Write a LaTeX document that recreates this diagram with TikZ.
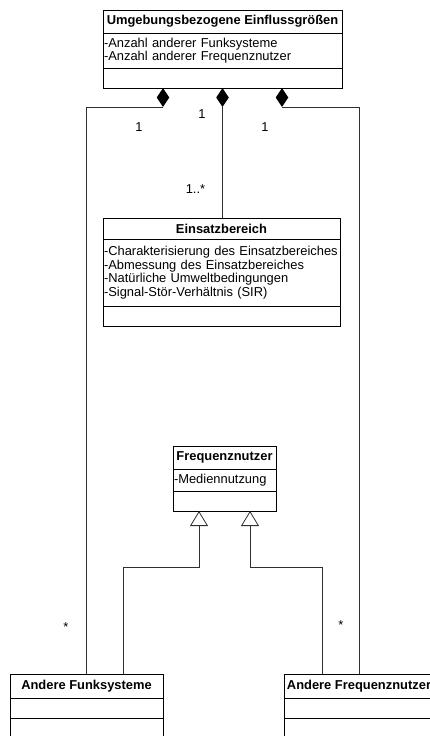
\documentclass[tikz,border=0pt]{standalone}
\usepackage{fontspec}
\setmainfont{Liberation Sans}
\usetikzlibrary{arrows.meta, positioning, shapes.geometric, calc}
\definecolor{cline}{HTML}{303030}
\tikzset{
  every picture/.style={font=\fontsize{12.9}{13.5}\selectfont, line width=1pt},
  clshead/.style={draw, font=\fontsize{12.9}{13.5}\selectfont\bfseries, inner sep=0pt, outer sep=0pt, anchor=north west},
  clsbody/.style={draw, align=left, inner xsep=1pt, inner ysep=0pt, outer sep=0pt},
  comp/.style={diamond, fill=black, draw=none, inner sep=0pt, outer sep=0pt, minimum width=12.5pt, minimum height=19pt},
  assoc/.style={draw=cline, line width=0.8pt},
  gen/.style={-{Triangle[open, length=15pt, width=18pt]}, draw=cline, line width=0.8pt},
  mult/.style={anchor=base, inner sep=0pt},
}

\begin{document}
\begin{tikzpicture}[x=1pt, y=-1pt]
  % \umlclass{name}{x,y}{width}{title h}{attr h}{ops h}{title}{attributes}
  \newcommand{\umlclass}[8]{
    \pgfmathsetmacro{\bodyw}{#3-2}
    \node[clshead, minimum width=#3pt, minimum height=#4pt] (#1) at (#2) {#7};
    \node[clsbody, text width=\bodyw pt, minimum height=#5pt, below=0pt of #1] (#1-a) {#8};
    \node[clsbody, text width=\bodyw pt, minimum height=#6pt, below=0pt of #1-a] (#1-o) {};
  }
  \useasboundingbox (0,0) rectangle (430,736);
  \clip (0,0) rectangle (430,736);

  \umlclass{umg}{103,10}{239}{23}{35}{20}{Umgebungsbezogene Einflussgrößen}{-Anzahl anderer Funksysteme\\-Anzahl anderer Frequenznutzer}
  \umlclass{eb}{103,218}{237}{21}{67}{20}{Einsatzbereich}{-Charakterisierung des Einsatzbereiches\\-Abmessung des Einsatzbereiches\\-Natürliche Umweltbedingungen\\-Signal-Stör-Verhältnis (SIR)}
  \umlclass{fn}{173,446}{103}{23}{22}{20}{Frequenznutzer}{-Mediennutzung}
  \umlclass{afs}{10,674}{153}{24}{20}{40}{Andere Funksysteme}{}
  \umlclass{afn}{284,674}{150}{24}{20}{40}{Andere Frequenznutzer}{}

  % composition
  \node[comp, anchor=north] (d1) at ($(umg-o.south)+(-59.5,0)$) {};
  \node[comp, anchor=north] (d2) at (umg-o.south) {};
  \node[comp, anchor=north] (d3) at ($(umg-o.south)+(59.5,0)$) {};
  \draw[assoc] (d1.south) -| (afs.north);
  \draw[assoc] (d2.south) -- (d2.south |- eb.north);
  \draw[assoc] (d3.south) -| (afn.north);

  % generalisation
  \coordinate (g1) at ($(fn-o.south)+(-25.5,0)$);
  \coordinate (g2) at ($(fn-o.south)+(25.5,0)$);
  \coordinate (j1) at ($(afs.north west)!0.74!(afs.north east)$);
  \coordinate (j2) at ($(afn.north west)!0.253!(afn.north east)$);
  \draw[gen] (j1) |- ($(g1)+(0,56)$) -- (g1);
  \draw[gen] (j2) |- ($(g2)+(0,56)$) -- (g2);

  \node[mult] (m1) at (139,131) {1};
  \node[mult] (m2) at (202,118) {1};
  \node[mult] (m3) at (265,131) {1};
  \node[mult] (m4) at (195.5,193.5) {1..*};
  \node[mult] (m5) at (66,631) {*};
  \node[mult] (m6) at (341,629) {*};
\end{tikzpicture}
\end{document}
